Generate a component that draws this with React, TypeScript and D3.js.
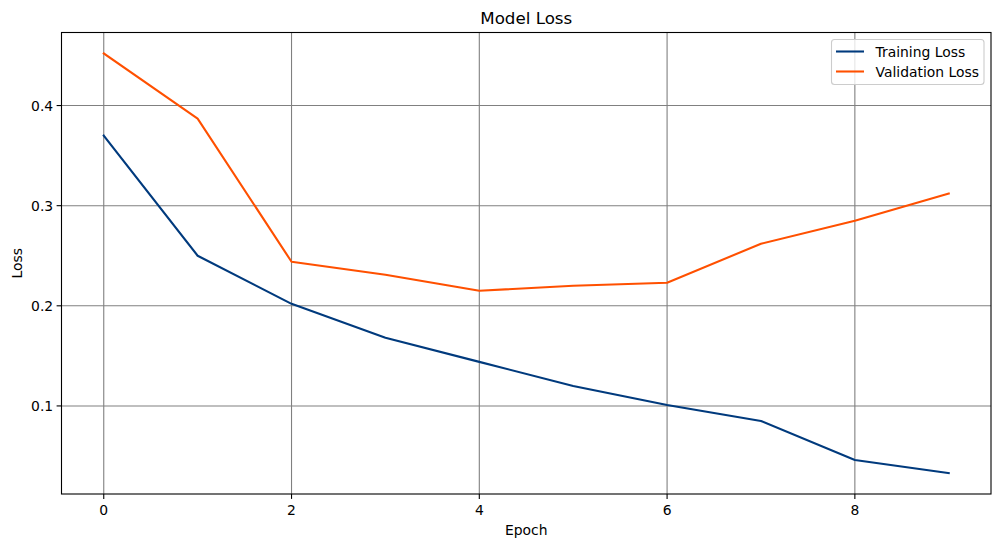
import React from "react";
import * as d3 from "d3";

const epochs = [0, 1, 2, 3, 4, 5, 6, 7, 8, 9];
const trainingLoss = [0.370, 0.250, 0.202, 0.168, 0.144, 0.120, 0.101, 0.085, 0.046, 0.033];
const validationLoss = [0.452, 0.387, 0.244, 0.231, 0.215, 0.220, 0.223, 0.262, 0.285, 0.312];
const xTicks = [0, 2, 4, 6, 8];
const yTicks = [0.1, 0.2, 0.3, 0.4];
const seriesNames = ["Training Loss", "Validation Loss"];
const seriesColors = ["#003a7d", "#ff5000"];

const W = 1001, H = 547;
const L = 61.5, R = 991, T = 32.5, B = 494;
const FONT = "DejaVu Sans, sans-serif";

export default function App() {
  const allVals = [...trainingLoss, ...validationLoss];
  const yMin = d3.min(allVals)!, yMax = d3.max(allVals)!;
  const yPad = (yMax - yMin) * 0.05;
  const x = d3.scaleLinear().domain([-0.45, 9.45]).range([L, R]);
  const y = d3.scaleLinear().domain([yMin - yPad, yMax + yPad]).range([B, T]);
  const line = d3.line<number>().x((_, i) => x(epochs[i])).y((d) => y(d));
  const series = [trainingLoss, validationLoss];

  return (
    <svg width={W} height={H} style={{ position: "absolute", left: 0, top: 0 }} fontFamily={FONT}>
      <rect width={W} height={H} fill="#fff" />
      {/* grid */}
      {xTicks.map((t) => (
        <line key={"gx" + t} x1={x(t)} x2={x(t)} y1={T} y2={B} stroke="#808080" strokeWidth={1.1} />
      ))}
      {yTicks.map((t) => (
        <line key={"gy" + t} x1={L} x2={R} y1={y(t)} y2={y(t)} stroke="#808080" strokeWidth={1.1} />
      ))}
      {/* lines */}
      {series.map((s, i) => (
        <path key={i} d={line(s)!} fill="none" stroke={seriesColors[i]} strokeWidth={2.08} strokeLinejoin="round" strokeLinecap="square" />
      ))}
      {/* spines */}
      <rect x={L} y={T} width={R - L} height={B - T} fill="none" stroke="#000" strokeWidth={1.1} />
      {/* ticks */}
      {xTicks.map((t) => (
        <g key={"tx" + t}>
          <line x1={x(t)} x2={x(t)} y1={B} y2={B + 4.9} stroke="#000" strokeWidth={1.1} />
          <text x={x(t)} y={B + 20.5} textAnchor="middle" fontSize={13.9} fill="#000">{String(t)}</text>
        </g>
      ))}
      {yTicks.map((t) => (
        <g key={"ty" + t}>
          <line x1={L - 4.9} x2={L} y1={y(t)} y2={y(t)} stroke="#000" strokeWidth={1.1} />
          <text x={L - 8.3} y={y(t)} dy="0.36em" textAnchor="end" fontSize={13.9} fill="#000">{t.toFixed(1)}</text>
        </g>
      ))}
      {/* labels */}
      <text x={(L + R) / 2} y={24} textAnchor="middle" fontSize={16.7} fill="#000">Model Loss</text>
      <text x={(L + R) / 2} y={535} textAnchor="middle" fontSize={13.9} fill="#000">Epoch</text>
      <text transform={`translate(22, ${(T + B) / 2}) rotate(-90)`} textAnchor="middle" fontSize={13.9} fill="#000">Loss</text>
      {/* legend */}
      <rect x={831.5} y={39.5} width={152.5} height={45} rx={3} fill="#fff" fillOpacity={0.8} stroke="#cccccc" strokeWidth={1.1} />
      {seriesNames.map((n, i) => (
        <g key={n}>
          <line x1={836} x2={864} y1={51.5 + i * 20} y2={51.5 + i * 20} stroke={seriesColors[i]} strokeWidth={2.08} />
          <text x={875.5} y={51.5 + i * 20} dy="0.36em" fontSize={13.9} fill="#000">{n}</text>
        </g>
      ))}
    </svg>
  );
}
